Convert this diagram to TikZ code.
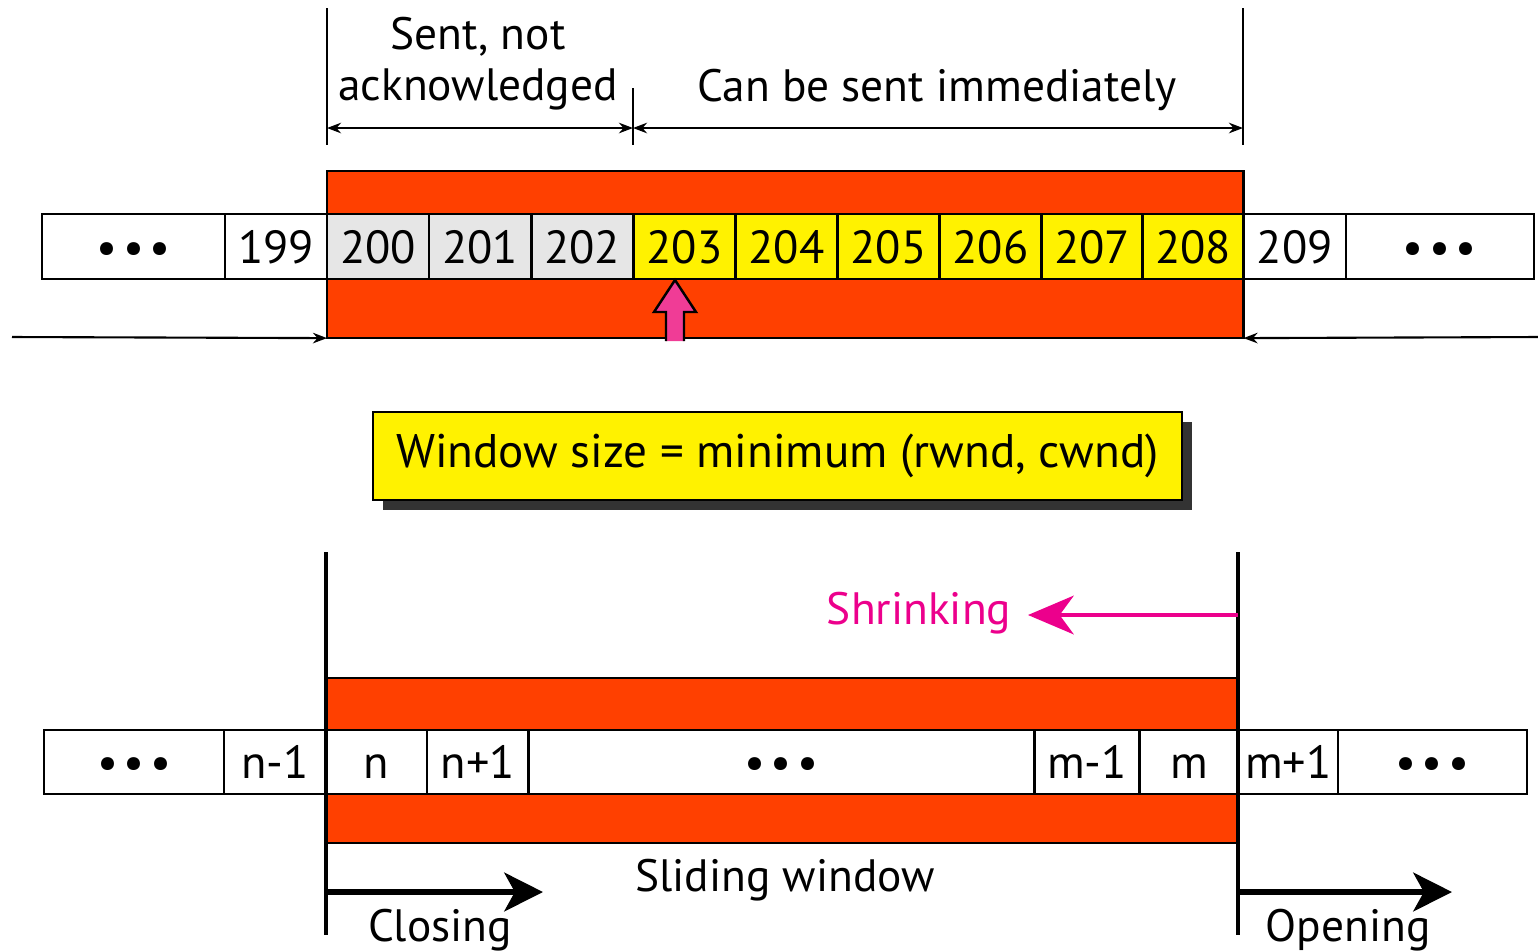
\documentclass[tikz,border=0pt]{standalone}
\usepackage{fontspec}
\setmainfont{PT Sans}
\usepackage{tikz}
\usetikzlibrary{arrows.meta,positioning,shadows}
\definecolor{winorange}{RGB}{255,64,0}
\definecolor{sentgray}{RGB}{230,230,230}
\definecolor{shrinkpink}{RGB}{236,0,140}
\definecolor{pointerpink}{RGB}{240,60,150}
\newcommand{\celldots}{\textbullet\hspace{0.12em}\textbullet\hspace{0.12em}\textbullet}
\tikzset{
cell/.style={draw, fill=white, line width=0.7pt, minimum width=1.02cm, minimum height=0.65cm, inner sep=0pt, outer sep=0pt, text height=9.4pt, text depth=0pt, font=\fontsize{13.2}{15}\selectfont}, % one byte of the stream
sent/.style={cell, fill=sentgray},
usable/.style={cell, fill=yellow},
window/.style={draw, line width=0.7pt, fill=winorange, inner sep=0pt, outer sep=0pt},
guide/.style={line width=0.6pt},
dimline/.style={line width=0.6pt, {Stealth[length=4pt,width=3pt]}-{Stealth[length=4pt,width=3pt]}},
rim/.style={line width=1.1pt},
slide/.style={line width=1.6pt, -{Stealth[length=11pt,width=11pt,inset=3pt]}},
txt/.style={font=\fontsize{12.9}{14.5}\selectfont, inner sep=0pt, align=center},
}
\begin{document}
\begin{tikzpicture}[x=0.01cm, y=-0.01cm]
		\useasboundingbox (0,0) rectangle (1538,950);
		% upper window
		\node[window, minimum width=9.16cm, minimum height=1.67cm, anchor=north west] (win) at (327,171) {};
		\node[cell, minimum width=1.83cm, anchor=west] (l1) at (42,246.5) {\celldots};
		\node[cell, right=0pt of l1] (199) {199};
		\node[sent, right=0pt of 199] (200) {200};
		\node[sent, right=0pt of 200] (201) {201};
		\node[sent, right=0pt of 201] (202) {202};
		\node[usable, right=0pt of 202] (203) {203};
		\node[usable, right=0pt of 203] (204) {204};
		\node[usable, right=0pt of 204] (205) {205};
		\node[usable, right=0pt of 205] (206) {206};
		\node[usable, minimum width=1.01cm, right=0pt of 206] (207) {207};
		\node[usable, minimum width=1.01cm, right=0pt of 207] (208) {208};
		\node[cell, right=0pt of 208] (209) {209};
		\node[cell, minimum width=1.88cm, right=0pt of 209] (r1) {\celldots};
		\filldraw[line width=0.7pt, fill=pointerpink] (666,341) -- (666,312) -- (654,312) -- (675,280) -- (696,312) -- (684,312) -- (684,341);
		% bounds and labels
		\coordinate (sl) at (327,128);
		\coordinate (sm) at (633,128);
		\coordinate (sr) at (1243,128);
		\draw[guide] (327,8) -- (327,145);
		\draw[guide] (633,88) -- (633,145);
		\draw[guide] (1243,8) -- (1243,145);
		\draw[dimline] (sl) -- (sm);
		\draw[dimline] (sm) -- (sr);
		\node[txt] (sent) at (478,64) {Sent, not\\acknowledged};
		\node[txt] (now) at (937,90) {Can be sent immediately};
		\coordinate (inl) at (12,337);
		\coordinate (inr) at (1538,337);
		\draw[guide, -{Stealth[length=4pt,width=3pt]}] (inl) -- (win.south west);
		\draw[guide, -{Stealth[length=4pt,width=3pt]}] (inr) -- (win.south east);
		% window size
		\node[draw, line width=0.7pt, fill=yellow, minimum width=8.09cm, minimum height=0.88cm, font=\fontsize{13.4}{15}\selectfont,
			drop shadow={shadow xshift=0.1cm, shadow yshift=-0.1cm, fill=black!80, opacity=1}] (size) at (777.5,456) {Window size = minimum (rwnd, cwnd)};
		% lower window
		\node[window, minimum width=9.12cm, minimum height=1.65cm, anchor=north west] (win2) at (326,678) {};
		\node[cell, minimum width=1.80cm, minimum height=0.64cm, anchor=west] (l2) at (44,762) {\celldots};
		\node[cell, minimum height=0.64cm, right=0pt of l2] (n0) {n-1};
		\node[cell, minimum width=1.01cm, minimum height=0.64cm, right=0pt of n0] (n1) {n};
		\node[cell, minimum width=1.01cm, minimum height=0.64cm, right=0pt of n1] (n2) {n+1};
		\node[cell, minimum width=5.06cm, minimum height=0.64cm, right=0pt of n2] (mid) {\celldots};
		\node[cell, minimum width=1.05cm, minimum height=0.64cm, right=0pt of mid] (m0) {m-1};
		\node[cell, minimum width=0.99cm, minimum height=0.64cm, right=0pt of m0] (m1) {m};
		\node[cell, minimum width=0.99cm, minimum height=0.64cm, right=0pt of m1] (m2) {m+1};
		\node[cell, minimum width=1.89cm, minimum height=0.64cm, right=0pt of m2] (r2) {\celldots};
		\draw[rim] (326,552) -- (326,935);
		\draw[rim] (1238,552) -- (1238,935);
		\coordinate (shr) at (1238,615);
		\coordinate (shl) at (1028,615);
		\draw[rim, shrinkpink, -{Stealth[length=13pt,width=11pt,inset=4pt]}] (shr) -- (shl);
		\node[txt, text=shrinkpink, anchor=east] (shrink) at (1012,613) {Shrinking};
		\coordinate (cl0) at (326,892);
		\coordinate (cl1) at (543,892);
		\coordinate (op0) at (1238,892);
		\coordinate (op1) at (1452,892);
		\draw[slide] (cl0) -- (cl1);
		\draw[slide] (op0) -- (op1);
		\node[txt] (closing) at (440,930) {Closing};
		\node[txt] (opening) at (1348,930) {Opening};
		\node[txt] (sliding) at (785,880) {Sliding window};
	\end{tikzpicture}
\end{document}
